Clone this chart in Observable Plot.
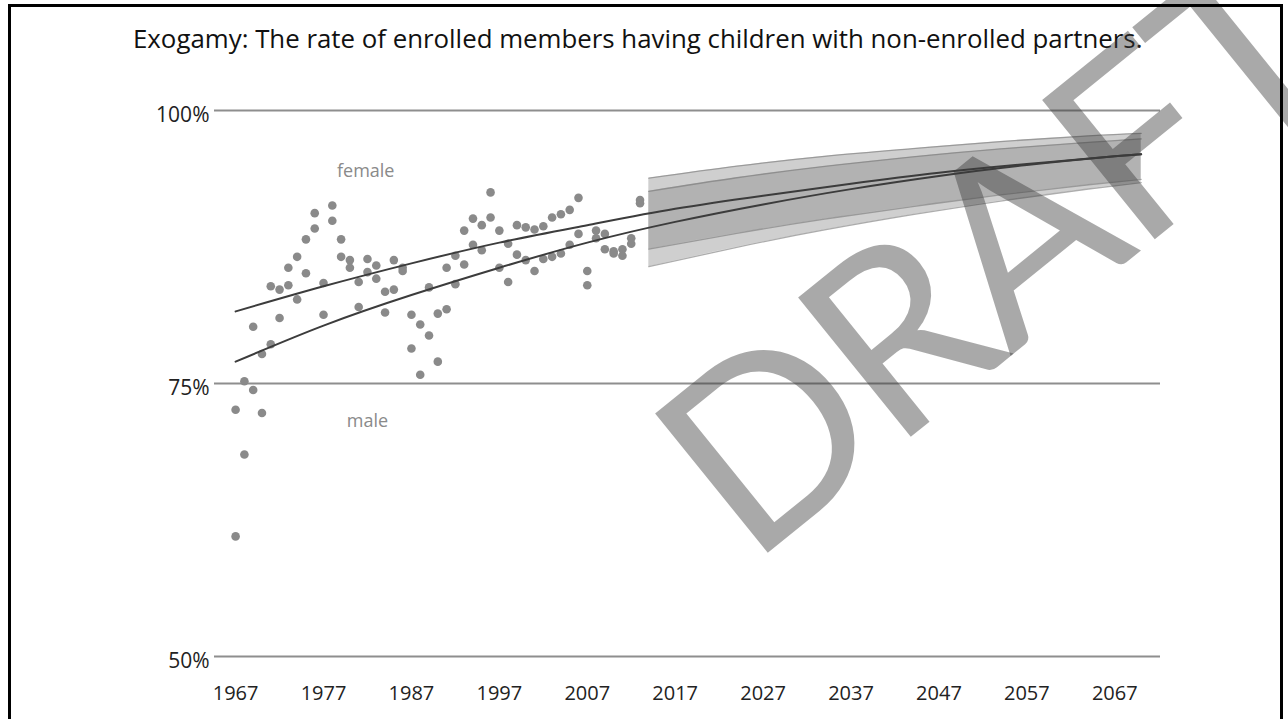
<!DOCTYPE html>
<html><head><meta charset="utf-8">
<script src="https://cdn.jsdelivr.net/npm/d3@7"></script>
<script src="https://cdn.jsdelivr.net/npm/@observablehq/plot@0.6"></script>
<style>
body{margin:0;background:#fff;width:1288px;height:719px;overflow:hidden;position:relative;font-family:"Open Sans",sans-serif;}
#frame{position:absolute;left:8px;top:4px;width:1275px;height:760px;border:3px solid #000;box-sizing:border-box;pointer-events:none;}
#title{position:absolute;left:133px;top:20px;font-size:25px;color:#111;white-space:nowrap;font-family:"Open Sans",sans-serif;}
#chart{position:absolute;left:0;top:0;}
#wm{position:absolute;left:990px;top:248px;transform:translate(-50%,-50%) rotate(-39deg);font-family:"Lato","Open Sans",sans-serif;font-weight:400;font-size:250px;line-height:1;letter-spacing:-6px;color:rgba(60,60,60,0.44);white-space:nowrap;pointer-events:none;}
</style></head>
<body>
<div id="chart"></div>
<div id="title">Exogamy: The rate of enrolled members having children with non-enrolled partners.</div>
<div id="wm">DRAFT</div>
<div id="frame"></div>
<script>
// observed years and rates (two dots per year)
const years = [1967,1968,1969,1970,1971,1972,1973,1974,1975,1976,1977,1978,1979,1980,1981,1982,1983,1984,1985,1986,1987,1988,1989,1990,1991,1992,1993,1994,1995,1996,1997,1998,1999,2000,2001,2002,2003,2004,2005,2006,2007,2008,2009,2010,2011,2012,2013];
const femaleRate = [72.6,75.2,80.2,77.7,83.9,83.6,85.6,86.6,88.2,90.6,84.2,91.3,88.2,86.3,84.3,86.4,85.8,83.4,86.3,85.6,81.3,80.4,83.8,81.4,85.6,86.7,89.0,90.1,89.5,92.5,89.0,87.8,89.5,89.3,89.1,89.4,90.2,90.5,90.9,92.0,85.3,89.0,88.7,87.1,87.3,88.3,91.8];
const maleRate = [61.0,68.5,74.4,72.3,78.6,81.0,84.0,82.7,85.1,89.2,81.3,89.9,86.6,85.6,82.0,85.2,84.6,81.5,83.6,85.3,78.2,75.8,79.4,77.0,81.8,84.1,85.9,87.7,87.2,90.2,85.6,84.3,86.8,86.3,85.3,86.4,86.6,86.9,87.7,88.7,84.0,88.3,87.3,86.9,86.7,87.8,91.5];

// fitted trend lines
const trendYears = [1967,1977,1987,1997,2007,2017,2027,2037,2047,2057,2067,2070];
const femaleTrend = [81.6,83.9,86.0,87.9,89.5,91.0,92.2,93.3,94.3,95.1,95.8,96.0];
const maleTrend = [77.0,80.3,83.1,85.6,87.9,89.8,91.4,92.8,94.0,95.0,95.8,96.0];

// projection bands
const bandYears = [2014,2024,2034,2044,2054,2064,2070];
const femaleHi = [93.8,94.9,95.8,96.5,97.15,97.67,97.9];
const femaleLo = [87.3,88.75,90.05,91.2,92.27,93.2,93.7];
const maleHi = [92.6,93.84,94.88,95.75,96.48,97.08,97.4];
const maleLo = [85.7,87.47,89.06,90.46,91.71,92.81,93.4];

// axes
const xTicks = [1967,1977,1987,1997,2007,2017,2027,2037,2047,2057,2067];
const yTicks = [50,75,100];
const seriesLabels = [{name:"female", year:1981.8, value:94.4},{name:"male", year:1982, value:71.5}];

const points = years.flatMap((yr,i)=>[{year:yr,value:femaleRate[i],sex:"female"},{year:yr,value:maleRate[i],sex:"male"}]);
const trendF = trendYears.map((yr,i)=>({year:yr,value:femaleTrend[i]}));
const trendM = trendYears.map((yr,i)=>({year:yr,value:maleTrend[i]}));
const bandF = bandYears.map((yr,i)=>({year:yr,hi:femaleHi[i],lo:femaleLo[i]}));
const bandM = bandYears.map((yr,i)=>({year:yr,hi:maleHi[i],lo:maleLo[i]}));

const font = "'Open Sans', sans-serif";
const chart = Plot.plot({
  width:1288, height:719,
  marginLeft:214, marginRight:128, marginTop:110, marginBottom:63,
  style:{fontFamily:font, background:"transparent", color:"#222"},
  x:{domain:[1964.6,2072.2]},
  y:{domain:[50,100]},
  marks:[
    Plot.ruleY(yTicks,{stroke:"#8e8e8e",strokeWidth:2}),
    Plot.areaY(bandF,{x:"year",y1:"lo",y2:"hi",fill:"#888",fillOpacity:0.4,curve:"natural"}),
    Plot.areaY(bandM,{x:"year",y1:"lo",y2:"hi",fill:"#888",fillOpacity:0.4,curve:"natural"}),
    Plot.line(bandF,{x:"year",y:"hi",stroke:"#777",strokeOpacity:0.6,strokeWidth:1.3,curve:"natural"}),
    Plot.line(bandF,{x:"year",y:"lo",stroke:"#777",strokeOpacity:0.6,strokeWidth:1.3,curve:"natural"}),
    Plot.line(bandM,{x:"year",y:"hi",stroke:"#777",strokeOpacity:0.6,strokeWidth:1.3,curve:"natural"}),
    Plot.line(bandM,{x:"year",y:"lo",stroke:"#777",strokeOpacity:0.6,strokeWidth:1.3,curve:"natural"}),
    Plot.dot(points,{x:"year",y:"value",r:4.3,fill:"#8a8a8a",stroke:"none"}),
    Plot.line(trendF,{x:"year",y:"value",stroke:"#3c3c3c",strokeWidth:2,curve:"natural"}),
    Plot.line(trendM,{x:"year",y:"value",stroke:"#3c3c3c",strokeWidth:2,curve:"natural"}),
    Plot.text(seriesLabels,{x:"year",y:"value",text:"name",fill:"#8a8a8a",fontSize:18,textAnchor:"middle"}),
    Plot.axisX({ticks:xTicks,tickFormat:d=>String(d),tickSize:0,tickPadding:29,fontSize:20,fill:"#222",label:null}),
    Plot.axisY({ticks:yTicks,tickFormat:d=>d+"%",tickSize:0,tickPadding:5,fontSize:21,fill:"#222",dy:5,label:null})
  ]
});
document.getElementById("chart").appendChild(chart);

// fit title to the reference width
const t = document.getElementById("title");
const w = t.getBoundingClientRect().width;
t.style.fontSize = (25*1010/w).toFixed(2)+"px";
</script>
</body></html>
